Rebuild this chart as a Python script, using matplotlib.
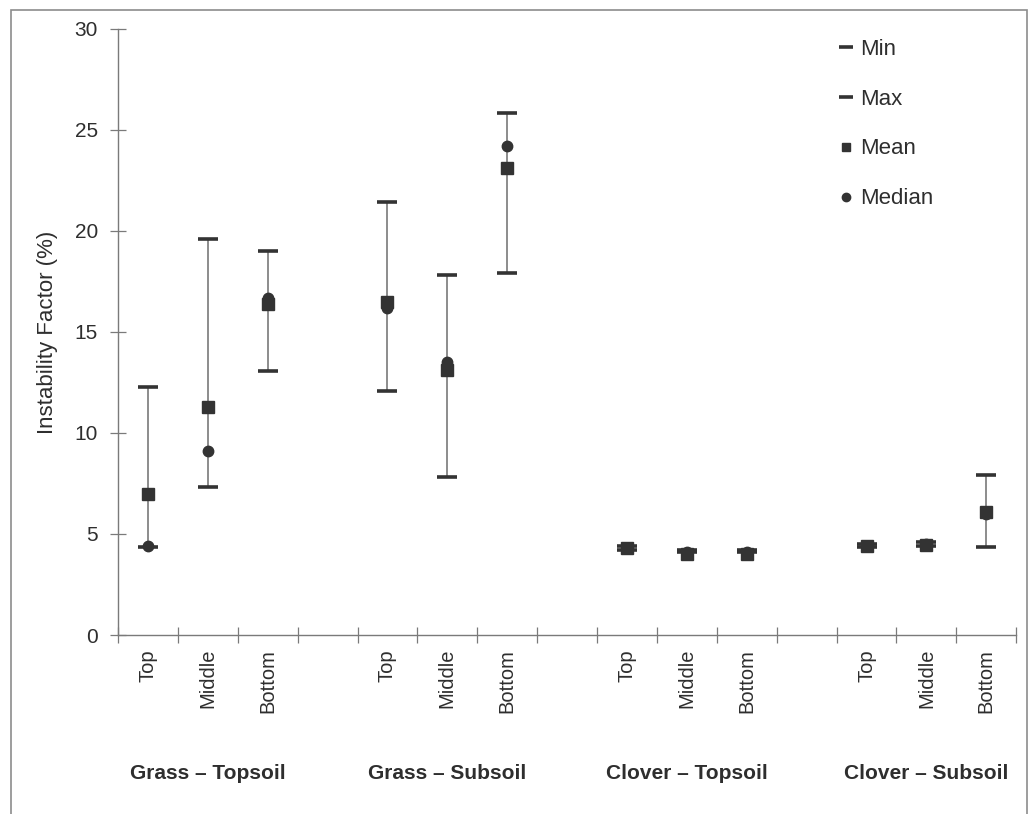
import numpy as np
import matplotlib
matplotlib.use('Agg')
import matplotlib.pyplot as plt
from matplotlib.lines import Line2D
from matplotlib.patches import Rectangle
import matplotlib.transforms as mtransforms

plt.rcParams['font.family'] = ['Liberation Sans', 'DejaVu Sans']

# slot position of each sample along the x axis (empty slots separate the groups)
slots = [0, 1, 2, 4, 5, 6, 8, 9, 10, 12, 13, 14]
depths = ['Top', 'Middle', 'Bottom'] * 4
groups = ['Grass \u2013 Topsoil', 'Grass \u2013 Subsoil', 'Clover \u2013 Topsoil', 'Clover \u2013 Subsoil']

min_vals = [4.35, 7.35, 13.05, 12.1, 7.8, 17.9, 4.2, 4.1, 4.1, 4.35, 4.4, 4.35]
max_vals = [12.3, 19.6, 19.0, 21.45, 17.8, 25.85, 4.4, 4.2, 4.2, 4.5, 4.6, 7.9]
mean_vals = [7.0, 11.3, 16.4, 16.5, 13.1, 23.1, 4.3, 4.0, 4.0, 4.4, 4.45, 6.1]
median_vals = [4.4, 9.1, 16.7, 16.2, 13.5, 24.2, 4.3, 4.1, 4.1, 4.4, 4.5, 6.0]

dark = '#333333'
grey = '#6e6e6e'
txt = '#2e2e2e'

fig = plt.figure(figsize=(10.30, 8.14), dpi=100)
ax = fig.add_axes([0.1146, 0.2199, 0.872, 0.7445])

# outer frame around the whole chart
fig.patches.append(Rectangle((11 / 1030, -0.02), (1027 - 11) / 1030, 1.02 - 10 / 814,
                             transform=fig.transFigure, fill=False, edgecolor='#8c8c8c', lw=1.2))

# high-low lines
ax.vlines(slots, min_vals, max_vals, color=grey, lw=1.1, zorder=1)
ax.plot(slots, min_vals, ls='none', marker='_', ms=14, mew=2.6, color=dark, zorder=3)
ax.plot(slots, max_vals, ls='none', marker='_', ms=14, mew=2.6, color=dark, zorder=3)
ax.plot(slots, mean_vals, ls='none', marker='s', ms=8, color=dark, zorder=4)
ax.plot(slots, median_vals, ls='none', marker='o', ms=7.5, color=dark, zorder=5)

ax.set_xlim(-0.5, 14.5)
ax.set_ylim(0, 30)

for s in ['top', 'right']:
    ax.spines[s].set_visible(False)
for s in ['left', 'bottom']:
    ax.spines[s].set_color('#7a7a7a')
    ax.spines[s].set_linewidth(1.0)

ax.set_yticks(np.arange(0, 31, 5))
ax.tick_params(axis='y', direction='inout', length=11, width=0.9, color='#7a7a7a',
               labelsize=15, labelcolor=txt, pad=9)

ax.set_xticks(np.arange(-0.5, 15, 1))
ax.set_xticklabels([])
ax.tick_params(axis='x', which='major', direction='inout', length=11, width=0.9, color='#7a7a7a')
ax.set_xticks(slots, minor=True)
ax.set_xticklabels(depths, minor=True, rotation=90, va='top', ha='center')
ax.tick_params(axis='x', which='minor', length=0, labelsize=14.5, labelcolor=txt, pad=10)

ax.set_ylabel('Instability Factor (%)', fontsize=16, color=txt, labelpad=12)

trans = mtransforms.blended_transform_factory(ax.transData, ax.transAxes)
for i, g in enumerate(groups):
    ax.text(slots[i * 3 + 1], -0.228, g, transform=trans, ha='center', va='center',
            fontsize=15, fontweight='bold', color=txt)

handles = [
    Line2D([], [], ls='none', marker='_', ms=10, mew=2.6, color=dark),
    Line2D([], [], ls='none', marker='_', ms=10, mew=2.6, color=dark),
    Line2D([], [], ls='none', marker='s', ms=6, color=dark),
    Line2D([], [], ls='none', marker='o', ms=6, color=dark),
]
leg = fig.legend(handles, ['Min', 'Max', 'Mean', 'Median'], loc='upper left',
                 bbox_to_anchor=(0.795, 0.977), frameon=False, fontsize=16,
                 labelspacing=1.3, handlelength=0.6, handletextpad=0.35)
for t in leg.get_texts():
    t.set_color(txt)

fig.savefig('out.png', dpi=100)
